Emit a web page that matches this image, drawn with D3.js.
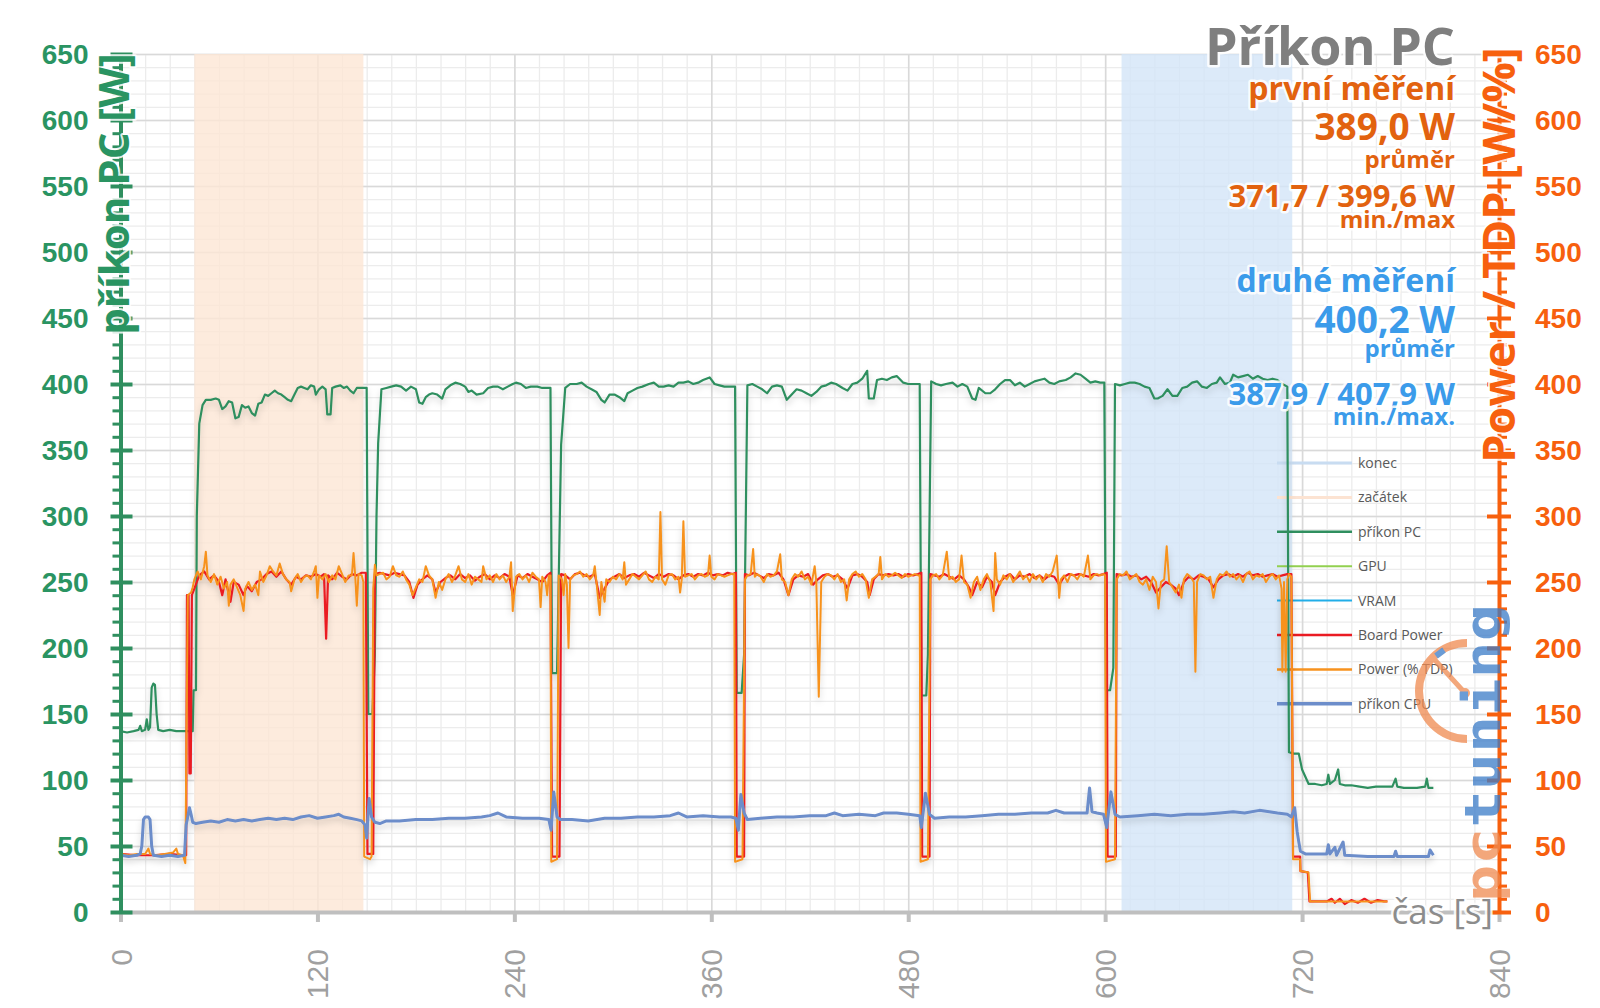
<!DOCTYPE html>
<html><head><meta charset="utf-8">
<script src="https://cdn.jsdelivr.net/npm/d3@7"></script>
<style>
html,body{margin:0;padding:0;background:#fff;}
svg{display:block;font-family:"Open Sans","Noto Sans",sans-serif;}
</style></head><body>
<svg id="c" width="1600" height="1008"></svg>
<script>
// ---------------- DATA ----------------
const xTicks = [0,120,240,360,480,600,720,840];
const yTicks = [0,50,100,150,200,250,300,350,400,450,500,550,600,650];
const bandStart = [45,148];   // "začátek" (first measurement)
const bandEnd   = [610,714];  // "konec" (second measurement)

const legendNames = ["konec","začátek","příkon PC","GPU","VRAM","Board Power","Power (% TDP)","příkon CPU"];

const infoFirst  = ["první měření","389,0 W","průměr","371,7 / 399,6 W","min./max"];
const infoSecond = ["druhé měření","400,2 W","průměr","387,9 / 407,9 W","min./max."];

const pcPower = [[0,137],[4,136],[8,137],[11,138],[12,141],[13,137],[15,138],[16,146],[17,138],[18,140],[19,170],[20,173],[21,172],[22,150],[23,138],[26,137],[30,138],[34,137],[38,137],[42,137],[44,137],[44.5,168],[46,168],[46.5,300],[48,370],[50,384],[52,388],[55,388],[58,389],[60,388],[62,381],[64,383],[66,387],[68,386],[70,374],[72,375],[74,384],[76,382],[78,383],[80,378],[82,376],[84,385],[86,386],[88,392],[90,391],[92,393],[94,395],[96,393],[98,392],[100,390],[102,388],[104,387],[106,392],[108,397],[110,398],[112,397],[114,396],[116,399],[118,398],[119,392],[121,396],[123,398],[125,396],[126,377],[128,377],[129,397],[131,398],[134,399],[136,397],[138,398],[140,395],[142,393],[144,397],[147,397],[150,397],[151,150],[153.5,150],[155,195],[156,300],[157,355],[159,396],[162,397],[165,398],[168,399],[171,398],[174,395],[177,398],[180,396],[182,386],[184,385],[186,390],[188,392],[190,393],[193,392],[196,389],[198,396],[201,399],[204,401],[207,400],[210,398],[212,394],[214,395],[217,392],[221,393],[224,397],[227,398],[230,398],[233,396],[236,398],[239,400],[241,401],[244,400],[247,397],[250,398],[254,398],[257,397],[260,397],[262,397],[263,181],[266,181],[268.5,354],[271,397],[274,400],[278,400],[281,401],[284,398],[287,396],[290,394],[293,388],[295,386],[298,392],[301,392],[304,390],[307,387],[309,393],[312,395],[315,397],[318,398],[322,400],[325,401],[328,398],[331,398],[334,399],[337,398],[340,401],[343,401],[346,402],[349,400],[352,401],[355,403],[359,405],[362,400],[365,399],[368,398],[371,398],[374.5,398],[375.5,166],[378.5,166],[380,195],[382,399],[385,400],[388,398],[391,396],[394,393],[397,398],[400,399],[403,398],[406,388],[409,392],[412,396],[415,395],[418,393],[421,391],[424,394],[427,398],[430,399],[433,401],[436,400],[440,397],[443,395],[446,400],[449,401],[452,404],[455,410],[456,389],[459,389],[461,403],[464,404],[467,403],[470,405],[473,406],[477,401],[480,400],[484,400],[487,400],[488,164],[491,164],[492,195],[494,402],[497,400],[500,399],[503,400],[507,401],[510,398],[513,400],[516,398],[519,389],[521,388],[523,397],[527,393],[530,393],[533,396],[536,400],[539,403],[542,403],[545,399],[548,401],[551,398],[554,400],[557,402],[560,403],[563,404],[566,401],[569,400],[572,402],[576,403],[579,405],[582,408],[585,407],[588,404],[591,401],[594,402],[597,401],[599.5,401],[600.5,168],[603,168],[605,185],[606,400],[609,399],[612,400],[615,401],[618,401],[621,400],[624,398],[627,397],[630,389],[632,389],[635,391],[638,396],[641,391],[644,391],[647,397],[650,398],[653,401],[656,402],[659,398],[662,397],[665,400],[668,401],[670,405],[673,400],[676,401],[678,407],[681,405],[684,406],[687,407],[690,404],[693,406],[696,404],[699,403],[702,404],[705,403],[708,400],[711,398],[712,121],[715,120],[718,120],[720,108],[724,97],[728,97],[732,96],[735,97],[736,104],[737,97],[740,100],[742,108],[743,97],[746,96],[750,96],[755,95],[760,94],[765,95],[770,95],[775,95],[777,101],[778,95],[782,94],[786,94],[790,94],[795,95],[796,101],[797,94],[800,94]];

const cpuPower = [[0,43],[5,42],[10,43],[12,44],[13,50],[14,70],[15,72],[17,72],[18,70],[19,50],[20,43],[25,42],[30,43],[35,42],[39,43],[40,66],[41,72],[42,79],[43,74],[44,68],[46,67],[50,68],[55,69],[60,68],[65,70],[70,69],[75,70],[80,69],[85,70],[90,71],[95,70],[100,71],[105,70],[110,72],[115,73],[120,71],[125,72],[130,73],[133,74],[136,72],[140,71],[144,70],[147,69],[149,66],[150,56],[151.5,86],[153,72],[155,68],[158,67],[162,69],[170,69],[180,70],[190,70],[200,71],[210,71],[220,72],[225,73],[230,75],[235,72],[245,71],[255,71],[261,70],[262.4,62],[264,91],[266,72],[268,70],[275,70],[285,69],[295,71],[305,71],[315,72],[325,72],[335,73],[340,75],[345,72],[355,73],[365,72],[372,72],[375,71],[376.5,62],[378,89],[380,75],[382,70],[390,71],[400,72],[410,72],[420,73],[430,73],[435,75],[440,73],[450,74],[460,73],[465,75],[473,75],[480,74],[487,73],[488,64],[490.5,90],[493,74],[496,71],[505,72],[515,72],[525,73],[535,74],[545,74],[555,75],[565,75],[570,77],[575,75],[580,75],[585,75],[589,75],[590.5,94],[592,76],[595,75],[599,74],[601,64],[603.5,91],[606,74],[609,72],[620,73],[630,74],[640,73],[650,74],[660,74],[670,75],[678,76],[685,75],[694,77],[700,76],[705,75],[711,74],[713.5,72],[715.5,79],[717,61],[718,53],[719,46],[722,44],[727,44],[735,44],[736,51],[737,44],[740,49],[741,43],[745,53],[746,43],[760,42],[776,42],[777,46],[778,42],[797,42],[798,47],[800,43]];

const boardPower = [[0,44],[10,43],[20,43],[30,44],[38,43],[40,43],[40.5,240],[41.5,240],[42,105],[42.8,105],[43.5,240],[45,245],[48,255],[51,258],[54,252],[57,255],[60,250],[62,240],[64,252],[67,235],[69,250],[72,248],[75,240],[77,247],[80,243],[83,250],[86,252],[89,256],[92,258],[95,254],[98,258],[101,252],[104,248],[107,254],[110,252],[113,255],[116,254],[119,256],[122,254],[124,256],[125.3,207],[126.5,255],[129,252],[132,257],[135,254],[138,252],[141,256],[144,255],[147,257],[149.5,257],[150.5,44],[154,44],[155,256],[158,257],[161,256],[164,255],[167,257],[170,256],[173,255],[176,250],[178.5,238],[181,248],[184,252],[187,255],[190,252],[192,242],[195,250],[198,253],[201,255],[204,252],[207,256],[210,253],[213,255],[216,251],[219,254],[222,256],[225,252],[228,255],[231,253],[234,256],[237,254],[239,240],[242,255],[245,253],[248,256],[251,254],[254,252],[257,250],[260,255],[262,257],[263,42],[267.5,42],[268.5,256],[271,255],[274,252],[277,256],[280,257],[283,255],[286,254],[289,256],[292,238],[295,245],[298,252],[301,254],[304,256],[307,253],[310,255],[313,256],[316,254],[319,257],[322,255],[325,253],[328,256],[331,254],[334,256],[337,255],[340,252],[343,255],[346,256],[349,254],[352,256],[355,255],[358,257],[361,255],[364,256],[367,255],[370,257],[373,256],[375,257],[375.5,42],[380,42],[380.5,256],[383,255],[386,257],[389,255],[392,253],[395,256],[398,255],[401,257],[404,252],[407,240],[410,252],[413,255],[416,254],[419,256],[422,248],[425,252],[428,255],[431,256],[434,254],[437,255],[440,252],[443,245],[446,255],[449,256],[452,254],[455,250],[456.5,240],[459,252],[462,256],[465,255],[468,256],[471,255],[474,256],[477,254],[480,256],[483,255],[486,256],[488,257],[488.5,42],[493,42],[493.5,256],[496,255],[499,254],[502,256],[505,254],[508,252],[511,255],[514,252],[517,246],[519,240],[522,250],[525,246],[528,254],[531,250],[533,240],[536,250],[539,254],[542,256],[545,252],[548,255],[551,254],[554,256],[557,253],[560,255],[563,252],[566,255],[569,254],[572,248],[575,254],[578,256],[581,255],[584,256],[587,255],[590,254],[593,256],[596,255],[599,256],[601,257],[601.5,42],[606.5,42],[607,256],[610,255],[613,256],[616,254],[619,255],[622,252],[625,254],[628,250],[631,242],[634,246],[637,250],[640,248],[643,245],[645,240],[648,250],[651,254],[654,252],[657,255],[660,254],[663,252],[666,246],[669,252],[672,255],[675,256],[678,254],[681,256],[684,254],[687,257],[690,255],[693,256],[696,254],[699,255],[702,256],[705,254],[708,255],[711,256],[713.5,256],[714.5,42],[718.8,42],[719,31],[723.5,30],[724.5,8],[735,8],[738,10],[740,7],[743,10],[746,6],[750,9],[754,7],[758,10],[762,7],[766,9],[770,8],[772,8]];

const tdpPower = [[0,44],[5,43],[10,44],[15,44],[17,48],[18,44],[22,43],[27,44],[32,45],[34,48],[35,44],[38,43],[39.5,37],[41,240],[43,242],[44,246],[45,252],[47,258],[49,252],[51,262],[52,273],[53,255],[55,250],[57,256],[59,248],[61,254],[63,245],[65,250],[66,232],[67,248],[69,252],[71,246],[73,240],[75,228],[76,245],[78,250],[80,244],[82,248],[84,240],[85,258],[87,250],[89,255],[91,262],[93,258],[95,255],[97,264],[99,256],[101,252],[103,250],[104,243],[106,252],[108,256],[110,250],[112,254],[114,255],[116,252],[118,258],[119,262],[120,238],[121,255],[123,252],[125,256],[127,250],[129,255],[131,252],[133,262],[135,256],[137,250],[139,255],[141,255],[142,272],[143,255],[144,232],[145,256],[147,255],[148,250],[148.5,42],[152,40],[153,42],[154,245],[155,263],[156,255],[158,256],[160,257],[162,252],[164,254],[166,262],[168,255],[170,254],[172,258],[174,252],[176,248],[178,240],[180,246],[182,252],[184,250],[186,262],[188,255],[190,252],[192,238],[194,250],[196,244],[198,252],[200,256],[202,250],[204,255],[206,262],[208,252],[210,250],[212,256],[214,248],[216,254],[218,252],[220,250],[221,262],[223,252],[225,255],[227,250],[229,256],[231,252],[233,255],[235,250],[237,254],[238,265],[239,228],[241,254],[243,256],[245,252],[247,255],[249,250],[251,257],[253,254],[255,252],[256,231],[257,254],[259,250],[260,240],[261,255],[262,255],[262.5,38],[266,40],[267,255],[269,252],[270,240],[271,256],[272,248],[273,200],[274,252],[276,255],[278,256],[280,258],[282,254],[284,256],[286,252],[288,255],[289,262],[290,250],[292,225],[293,250],[295,235],[296,252],[298,250],[300,254],[302,252],[304,256],[306,252],[307,265],[308,248],[310,252],[312,256],[314,254],[316,252],[318,255],[320,258],[322,252],[324,250],[326,254],[328,252],[329,303],[330,252],[332,248],[334,255],[336,256],[338,252],[340,254],[341,242],[342,252],[343,296],[344,254],[346,255],[348,256],[350,252],[352,255],[354,256],[356,254],[358,255],[359,270],[360,254],[362,252],[364,256],[366,255],[368,254],[370,255],[372,256],[374,256],[374.5,38],[379,40],[380.5,252],[382,255],[384,256],[385.5,275],[386.5,254],[388,256],[390,254],[392,250],[394,256],[396,254],[398,255],[400,258],[402,271],[403,252],[405,250],[407,240],[409,252],[411,256],[413,254],[415,258],[417,252],[419,254],[421,248],[423,262],[424,250],[425.5,163],[427,250],[429,254],[431,256],[433,255],[435,252],[437,256],[439,250],[441,252],[442.5,236],[444,252],[446,256],[448,258],[450,254],[452,256],[454,252],[456,238],[458,252],[460,254],[462,256],[463,269],[464,252],[466,256],[468,254],[470,255],[472,257],[474,255],[476,253],[478,256],[480,254],[482,255],[484,256],[486,255],[487,255],[487.5,38],[492,40],[493.5,252],[495,255],[497,256],[499,252],[501,255],[503.5,273],[505,252],[507,254],[509,250],[511,252],[512.5,270],[514,250],[516,248],[518,238],[520,250],[522,254],[524,244],[526,252],[528,256],[530,250],[532,228],[533,272],[534,252],[536,248],[538,255],[540,252],[542,256],[544,250],[546,254],[548,258],[550,252],[552,255],[554,250],[556,256],[558,252],[560,255],[562,250],[564,256],[566,254],[568,258],[570.5,270],[572,238],[573,252],[575,255],[577,250],[579,256],[581,255],[583,252],[585,256],[587,254],[589.5,270],[591,252],[593,255],[595,256],[597,255],[599,256],[600,255],[600.5,38],[606,40],[607,252],[609,256],[611,255],[613,258],[615,252],[617,254],[619,256],[621,250],[623,248],[625,252],[627,244],[629,254],[631,250],[632.5,230],[634,250],[636,252],[637.5,277],[639,250],[641,246],[643,242],[645,248],[646.5,238],[648,252],[650,256],[652,254],[654,250],[655,182],[656,250],[658,256],[660,255],[662,252],[664,254],[666,238],[668,252],[670,256],[672,255],[674,258],[676,254],[678,256],[680,252],[682,255],[684,250],[686,256],[688,258],[690,252],[692,255],[694,254],[696,256],[698,250],[700,254],[702,256],[704,252],[706,255],[707.5,245],[708,182],[709,250],[710,182],[711,252],[712,256],[713.5,254],[714.5,40],[718.8,40],[719,31],[723.9,30],[724.9,8],[740,8],[760,8],[772,8]];

// ---------------- STYLE ----------------
const C = {
  green:"#2f8f5f", greenTxt:"#2a9462", orangeAx:"#f7600e", orangeTxt:"#e2620f", blueTxt:"#3b9bea",
  gray:"#7f7f7f", red:"#ea1b23", tdp:"#f7921e", cpu:"#6c8dca", gpu:"#92d050", vram:"#22aee8",
  bandS:"#fde6d4", bandE:"#d3e5f8", legS:"#fce3d2", legE:"#c8dcf1"
};

const svg = d3.select("#c");
const X0=120.5, X1=1499, Y0=912, Y1=54;
const x = d3.scaleLinear().domain([0,840]).range([X0,X1]);
const y = d3.scaleLinear().domain([0,650]).range([Y0,Y1]);

const defs = svg.append("defs");
const f = defs.append("filter").attr("id","sh").attr("x","-5%").attr("y","-5%").attr("width","110%").attr("height","120%");
f.append("feDropShadow").attr("dx",0).attr("dy",4).attr("stdDeviation",3).attr("flood-color","#000").attr("flood-opacity",0.18);

// grid
const grid = svg.append("g");
grid.append("g").attr("transform",`translate(0,${Y0})`)
  .call(d3.axisBottom(x).tickValues(d3.range(0,841,15)).tickSize(-(Y0-Y1)).tickFormat(""))
  .call(g=>{g.select(".domain").remove(); g.selectAll("line").attr("stroke","#ececec").attr("stroke-width",1.3);});
grid.append("g").attr("transform",`translate(${X0},0)`)
  .call(d3.axisLeft(y).tickValues(d3.range(0,651,10)).tickSize(-(X1-X0)).tickFormat(""))
  .call(g=>{g.select(".domain").remove(); g.selectAll("line").attr("stroke","#ececec").attr("stroke-width",1.3);});
grid.append("g").attr("transform",`translate(0,${Y0})`)
  .call(d3.axisBottom(x).tickValues(xTicks).tickSize(-(Y0-Y1)).tickFormat(""))
  .call(g=>{g.select(".domain").remove(); g.selectAll("line").attr("stroke","#d9d9d9").attr("stroke-width",1.6);});
grid.append("g").attr("transform",`translate(${X0},0)`)
  .call(d3.axisLeft(y).tickValues(yTicks).tickSize(-(X1-X0)).tickFormat(""))
  .call(g=>{g.select(".domain").remove(); g.selectAll("line").attr("stroke","#d9d9d9").attr("stroke-width",1.6);});

// bands
svg.append("rect").attr("x",x(bandStart[0])).attr("width",x(bandStart[1])-x(bandStart[0]))
  .attr("y",Y1).attr("height",Y0-Y1).attr("fill",C.bandS).attr("opacity",0.8);
svg.append("rect").attr("x",x(bandEnd[0])).attr("width",x(bandEnd[1])-x(bandEnd[0]))
  .attr("y",Y1).attr("height",Y0-Y1).attr("fill",C.bandE).attr("opacity",0.8);

// legend (under the data lines)
const lg = svg.append("g");
const legColors=[C.legE,C.legS,C.green,C.gpu,C.vram,C.red,C.tdp,C.cpu];
const legW=[3,3,2.5,2,2,2.5,2.5,3.5];
legendNames.forEach((n,i)=>{
  const yy = 463 + i*34.4;
  lg.append("line").attr("x1",1277).attr("x2",1352).attr("y1",yy).attr("y2",yy)
    .attr("stroke",legColors[i]).attr("stroke-width",legW[i]);
  lg.append("text").attr("x",1358).attr("y",yy).attr("dy","0.35em").attr("font-size",14)
    .attr("fill","#595959").text(n);
});

// data lines
const line = d3.line().x(d=>x(d[0])).y(d=>y(d[1]));
const dl = svg.append("g").attr("filter","url(#sh)").attr("fill","none").attr("stroke-linejoin","round");
dl.append("path").datum(pcPower).attr("d",line).attr("stroke",C.green).attr("stroke-width",2.2);
dl.append("path").datum(boardPower).attr("d",line).attr("stroke",C.red).attr("stroke-width",2.2);
dl.append("path").datum(tdpPower).attr("d",line).attr("stroke",C.tdp).attr("stroke-width",2);
dl.append("path").datum(cpuPower).attr("d",line).attr("stroke",C.cpu).attr("stroke-width",3);

// x axis
const xa = svg.append("g").attr("transform",`translate(0,${Y0})`)
  .call(d3.axisBottom(x).tickValues(xTicks).tickSize(10).tickSizeOuter(0));
xa.select(".domain").attr("stroke","#bfbfbf").attr("stroke-width",4);
xa.selectAll(".tick line").attr("stroke","#bfbfbf").attr("stroke-width",4);
xa.selectAll(".tick text").attr("fill","#a0a0a0").attr("font-size",30).attr("font-weight",300)
  .attr("text-anchor","end").attr("transform","rotate(-90)").attr("x",-37).attr("y",0).attr("dy","0.35em");

// left axis
const la = svg.append("g").attr("transform",`translate(${X0},0)`);
la.call(d3.axisLeft(y).tickValues(d3.range(0,651,10)).tickSize(8).tickFormat(""))
  .call(g=>{g.select(".domain").remove(); g.selectAll("line").attr("stroke",C.green).attr("stroke-width",3);});
const la2 = svg.append("g").attr("transform",`translate(${X0},0)`)
  .call(d3.axisLeft(y).tickValues(yTicks).tickSize(10).tickSizeOuter(0));
la2.select(".domain").attr("stroke",C.green).attr("stroke-width",4);
la2.selectAll(".tick line").attr("stroke",C.green).attr("stroke-width",4).attr("x2",12).attr("x1",-10);
la2.selectAll(".tick text").attr("fill",C.greenTxt).attr("font-size",28).attr("font-weight",600)
  .attr("x",-32).attr("dy","0.35em");

// right axis
const ra = svg.append("g").attr("transform",`translate(${X1},0)`);
ra.call(d3.axisRight(y).tickValues(d3.range(0,651,10)).tickSize(8).tickFormat(""))
  .call(g=>{g.select(".domain").remove(); g.selectAll("line").attr("stroke",C.orangeAx).attr("stroke-width",3);});
const ra2 = svg.append("g").attr("transform",`translate(${X1},0)`)
  .call(d3.axisRight(y).tickValues(yTicks).tickSize(10).tickSizeOuter(0));
ra2.select(".domain").attr("stroke",C.orangeAx).attr("stroke-width",4);
ra2.selectAll(".tick line").attr("stroke",C.orangeAx).attr("stroke-width",4).attr("x1",-12).attr("x2",12);
ra2.selectAll(".tick text").attr("fill",C.orangeAx).attr("font-size",28).attr("font-weight",600)
  .attr("x",36).attr("dy","0.35em").attr("text-anchor","start");

// axis titles
function halo(sel,w){return sel.attr("stroke","#fff").attr("stroke-width",w).attr("stroke-opacity",0.85).attr("paint-order","stroke").attr("stroke-linejoin","round");}
halo(svg.append("text").attr("transform","translate(129,194) rotate(-90)").attr("text-anchor","middle")
  .attr("font-size",42).attr("font-weight",700).attr("fill",C.greenTxt).text("příkon PC [W]"),4);
halo(svg.append("text").attr("transform","translate(1515,255) rotate(-90)").attr("text-anchor","middle")
  .attr("font-size",45).attr("font-weight",700).attr("fill",C.orangeAx).text("Power / TDP [W/%]"),4);
halo(svg.append("text").attr("x",1493).attr("y",924).attr("text-anchor","end")
  .attr("font-size",35).attr("fill","#8c8c8c").text("čas [s]"),5);

// watermark
const wm = svg.append("g").attr("opacity",0.75);
const arc = d3.arc().innerRadius(44).outerRadius(52).startAngle(Math.PI*1.0).endAngle(Math.PI*2.0);
wm.append("path").attr("transform","translate(1467,691)").attr("d",arc).attr("fill","#f08a50");
wm.append("line").attr("x1",1465).attr("y1",693).attr("x2",1434).attr("y2",659).attr("stroke","#f08a50").attr("stroke-width",5).attr("stroke-linecap","round");
wm.append("circle").attr("cx",1465).attr("cy",693).attr("r",5).attr("fill","#f08a50");
wm.append("line").attr("x1",1436).attr("y1",656).attr("x2",1444).attr("y2",650).attr("stroke","#3a7bc8").attr("stroke-width",6);
const wt = wm.append("text").attr("transform","translate(1500,902) rotate(-90)")
  .attr("font-family","DejaVu Sans Mono, monospace").attr("font-weight",700).attr("font-size",50)
  .attr("textLength",298).attr("lengthAdjust","spacingAndGlyphs");
wt.append("tspan").attr("fill","#f08a50").text("pc");
wt.append("tspan").attr("fill","#3a7bc8").text("tuning");

// titles / info
halo(svg.append("text").attr("x",1455).attr("y",65).attr("text-anchor","end").attr("font-size",52)
  .attr("font-weight",700).attr("fill",C.gray).text("Příkon PC"),5);
const infoSizes=[32,37,24,31,24];
const infoY1=[100,140,168,207,228];
const infoY2=[292,333,357,405,425];
infoFirst.forEach((t,i)=>halo(svg.append("text").attr("x",1455).attr("y",infoY1[i]).attr("text-anchor","end")
  .attr("font-size",infoSizes[i]).attr("font-weight",700).attr("fill",C.orangeTxt).text(t),5));
infoSecond.forEach((t,i)=>halo(svg.append("text").attr("x",1455).attr("y",infoY2[i]).attr("text-anchor","end")
  .attr("font-size",infoSizes[i]).attr("font-weight",700).attr("fill",C.blueTxt).text(t),5));
</script></body></html>
